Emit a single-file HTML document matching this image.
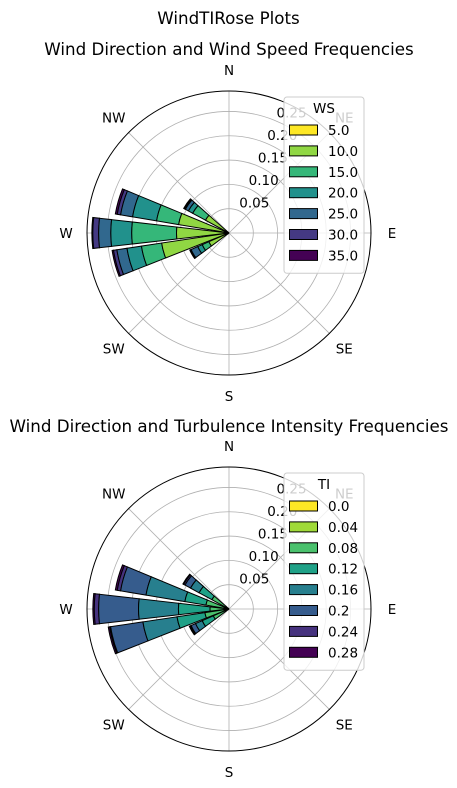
<!DOCTYPE html>
<html><head><meta charset="utf-8"><style>
html,body{margin:0;padding:0;background:#fff}
svg{display:block;font-family:"DejaVu Sans","Liberation Sans",sans-serif}
</style></head><body>
<svg id="chart" width="457" height="788" viewBox="0 0 457 788">
<text x="228.5" y="24" text-anchor="middle" font-size="16.7">WindTIRose Plots</text>
<text x="229" y="55" text-anchor="middle" font-size="16.7">Wind Direction and Wind Speed Frequencies</text>
<text x="229" y="432" text-anchor="middle" font-size="16.7">Wind Direction and Turbulence Intensity Frequencies</text>
<g id="p1"></g>
<g id="p2"></g>
</svg>
<script>
// data
const directions = [305, 286, 270, 255, 240];
const rTicks = [0.05, 0.10, 0.15, 0.20, 0.25];
const rTickLabels = ["0.05", "0.10", "0.15", "0.20", "0.25"];
const compassLabels = ["N","NE","E","SE","S","SW","W","NW"];
const wsLabels = ["5.0","10.0","15.0","20.0","25.0","30.0","35.0"];
const wsColors = ["#fde725","#90d743","#35b779","#21918c","#31688e","#443983","#440154"];
// cumulative frequency per direction (one value per speed bin)
const ws305 = [0.003,0.055,0.085,0.095,0.102,0.104,0.106];
const ws286 = [0.004,0.105,0.151,0.201,0.226,0.233,0.237];
const ws270 = [0.005,0.108,0.200,0.243,0.268,0.280,0.282];
const ws255 = [0.004,0.140,0.182,0.212,0.233,0.240,0.243];
const ws240 = [0.003,0.045,0.060,0.070,0.085,0.087,0.088];
const tiLabels = ["0.0","0.04","0.08","0.12","0.16","0.2","0.24","0.28"];
const tiColors = ["#fde725","#a0da39","#4ac16d","#1fa187","#277f8e","#365c8d","#46327e","#440154"];
const ti305 = [0.002,0.008,0.040,0.070,0.090,0.103,0.106,0.108];
const ti286 = [0.002,0.010,0.048,0.092,0.173,0.226,0.233,0.237];
const ti270 = [0.002,0.010,0.039,0.104,0.186,0.268,0.277,0.280];
const ti255 = [0.002,0.010,0.050,0.108,0.179,0.246,0.248,0.251];
const ti240 = [0.002,0.008,0.035,0.060,0.075,0.085,0.087,0.089];

const NS="http://www.w3.org/2000/svg";
const R=142, RMAX=0.292, BARW=13;
function mk(tag,attrs,parent){const e=document.createElementNS(NS,tag);for(const k in attrs)e.setAttribute(k,attrs[k]);parent.appendChild(e);return e;}
function rScale(v){return v/RMAX*R;}
function pt(cx,cy,deg,r){const a=deg*Math.PI/180;return [cx+r*Math.sin(a),cy-r*Math.cos(a)];}
function wedge(cx,cy,d,r0,r1){
  const a0=d-BARW/2,a1=d+BARW/2;
  const p1=pt(cx,cy,a0,r1),p2=pt(cx,cy,a1,r1),p3=pt(cx,cy,a1,r0),p4=pt(cx,cy,a0,r0);
  return `M${p4[0]},${p4[1]}L${p1[0]},${p1[1]}A${r1},${r1} 0 0 1 ${p2[0]},${p2[1]}L${p3[0]},${p3[1]}A${r0},${r0} 0 0 0 ${p4[0]},${p4[1]}Z`;
}
function rose(g,cx,cy,series,colors,labels,title,legTop){
  for(let i=0;i<8;i++){
    const p=pt(cx,cy,i*45,R);
    const l=mk('line',{x1:cx,y1:cy,x2:p[0],y2:p[1],stroke:'#b0b0b0','stroke-width':0.8},g);
    
    
  }
  rTicks.forEach(t=>{
    const c=mk('circle',{cx:cx,cy:cy,r:rScale(t),fill:'none',stroke:'#b0b0b0','stroke-width':0.8},g);
    
    
  });
  series.forEach((cum,j)=>{
    const d=directions[j];
    for(let k=cum.length-1;k>=0;k--){
      const r0=k===0?0:rScale(cum[k-1]);
      const p=mk('path',{d:wedge(cx,cy,d,r0,rScale(cum[k])),fill:colors[k],stroke:'#000','stroke-width':1},g);
      
      
    }
  });
  const oc=mk('circle',{cx:cx,cy:cy,r:R,fill:'none',stroke:'#000','stroke-width':1},g);
  
  
  rTicks.forEach((t,i)=>{
    const p=pt(cx,cy,22.5,rScale(t));
    const tx=mk('text',{x:p[0]+1,y:p[1]-3,'font-size':13.5,fill:'#000'},g);
    tx.textContent=rTickLabels[i];
    
    
  });
  compassLabels.forEach((s,i)=>{
    const p=pt(cx,cy,i*45,163);
    const tx=mk('text',{x:p[0],y:p[1]+5,'font-size':13.5,'text-anchor':'middle',fill:'#000'},g);
    tx.textContent=s;
    
    
  });
  const n=labels.length, h=20.9;
  const bg=mk('rect',{x:284,y:legTop,width:80,height:30+n*h,rx:3,fill:'#fff','fill-opacity':0.8,stroke:'#ccc','stroke-width':1},g);
  
  
  const tt=mk('text',{x:324,y:legTop+16,'font-size':13.5,'text-anchor':'middle'},g);
  tt.textContent=title;
  
  
  labels.forEach((s,i)=>{
    const y=legTop+33+i*h;
    const r=mk('rect',{x:289.5,y:y-5,width:28,height:10,fill:colors[i],stroke:'#000','stroke-width':1},g);
    
    
    const tx=mk('text',{x:328,y:y+5,'font-size':13.5},g);
    tx.textContent=s;
    
    
  });
}
rose(document.getElementById('p1'),229,233,[ws305,ws286,ws270,ws255,ws240],wsColors,wsLabels,"WS",97);
rose(document.getElementById('p2'),229,609,[ti305,ti286,ti270,ti255,ti240],tiColors,tiLabels,"TI",473);
</script>
</body></html>
